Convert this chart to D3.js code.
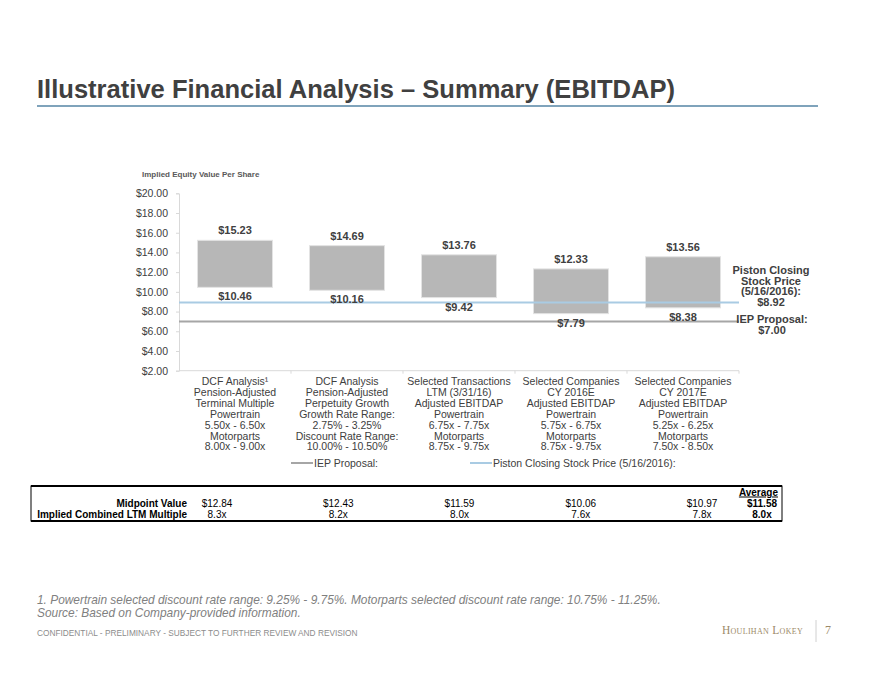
<!DOCTYPE html>
<html>
<head>
<meta charset="utf-8">
<script src="https://cdn.jsdelivr.net/npm/d3@7"></script>
<style>
  body { margin: 0; background: #fff; }
  svg { font-family: "Liberation Sans", Arial, sans-serif; }
</style>
</head>
<body>
<div id="chart"></div>
<script>
// chart values
var categories = [
  ["DCF Analysis\u00b9", "Pension-Adjusted", "Terminal Multiple", "Powertrain", "5.50x - 6.50x", "Motorparts", "8.00x - 9.00x"],
  ["DCF Analysis", "Pension-Adjusted", "Perpetuity Growth", "Growth Rate Range:", "2.75% - 3.25%", "Discount Rate Range:", "10.00% - 10.50%"],
  ["Selected Transactions", "LTM (3/31/16)", "Adjusted EBITDAP", "Powertrain", "6.75x - 7.75x", "Motorparts", "8.75x - 9.75x"],
  ["Selected Companies", "CY 2016E", "Adjusted EBITDAP", "Powertrain", "5.75x - 6.75x", "Motorparts", "8.75x - 9.75x"],
  ["Selected Companies", "CY 2017E", "Adjusted EBITDAP", "Powertrain", "5.25x - 6.25x", "Motorparts", "7.50x - 8.50x"]
];
var lowValues = [10.46, 10.16, 9.42, 7.79, 8.38];
var highValues = [15.23, 14.69, 13.76, 12.33, 13.56];
var iepProposal = 7.00;
var pistonPrice = 8.92;
var yTicks = [2, 4, 6, 8, 10, 12, 14, 16, 18, 20];

// table under the chart
var midpointValues = ["$12.84", "$12.43", "$11.59", "$10.06", "$10.97"];
var ltmMultiples = ["8.3x", "8.2x", "8.0x", "7.6x", "7.8x"];
var averageMidpoint = "$11.58";
var averageMultiple = "8.0x";

var width = 880, height = 680;
var textColor = "#404040";

var svg = d3.select("#chart").append("svg")
    .attr("width", width)
    .attr("height", height);

// title
svg.append("text")
    .attr("x", 37)
    .attr("y", 98)
    .attr("font-size", 26)
    .attr("font-weight", "bold")
    .attr("fill", textColor)
    .attr("textLength", 638)
    .attr("lengthAdjust", "spacingAndGlyphs")
    .text("Illustrative Financial Analysis \u2013 Summary (EBITDAP)");

svg.append("line")
    .attr("x1", 37).attr("x2", 818)
    .attr("y1", 106).attr("y2", 106)
    .attr("stroke", "#7fa3bb")
    .attr("stroke-width", 2);

// chart area
var plot = { left: 179, right: 739, top: 193.3, bottom: 370.7 };

var x = d3.scaleBand()
    .domain(d3.range(categories.length))
    .range([plot.left, plot.right])
    .paddingInner(0.33)
    .paddingOuter(0.165);

var xTicks = d3.scaleBand()
    .domain(d3.range(categories.length))
    .range([plot.left, plot.right]);

var y = d3.scaleLinear()
    .domain([2, 20])
    .range([plot.bottom, plot.top]);

svg.append("text")
    .attr("x", 142)
    .attr("y", 177)
    .attr("font-size", 8)
    .attr("font-weight", "bold")
    .attr("fill", "#595959")
    .text("Implied Equity Value Per Share");

var yAxis = svg.append("g")
    .attr("transform", `translate(${plot.left},0)`)
    .call(d3.axisLeft(y).tickValues(yTicks).tickSize(3).tickPadding(8)
      .tickFormat(d => "$" + d.toFixed(2)));
yAxis.select(".domain").attr("stroke", "#d9d9d9");
yAxis.selectAll(".tick line").attr("stroke", "#d9d9d9");
yAxis.selectAll(".tick text")
    .attr("font-size", 10.5)
    .attr("fill", textColor)
    .attr("font-family", "Liberation Sans, Arial, sans-serif");

// x axis line with small ticks between categories
svg.append("line")
    .attr("x1", plot.left).attr("x2", plot.right)
    .attr("y1", plot.bottom).attr("y2", plot.bottom)
    .attr("stroke", "#d9d9d9");
svg.selectAll(".xtick")
    .data(d3.range(1, categories.length + 1))
    .enter().append("line")
    .attr("x1", d => d < categories.length ? xTicks(d) : plot.right)
    .attr("x2", d => d < categories.length ? xTicks(d) : plot.right)
    .attr("y1", plot.bottom).attr("y2", plot.bottom + 3)
    .attr("stroke", "#d9d9d9");

// floating bars
svg.selectAll(".bar")
    .data(lowValues)
    .enter().append("rect")
    .attr("x", (d, i) => x(i))
    .attr("width", x.bandwidth())
    .attr("y", (d, i) => y(highValues[i]))
    .attr("height", (d, i) => y(d) - y(highValues[i]))
    .attr("fill", "#b7b7b7")
    .attr("stroke", "#e3e3e3")
    .attr("stroke-width", 1);

// reference lines
svg.append("line")
    .attr("x1", plot.left).attr("x2", plot.right)
    .attr("y1", y(pistonPrice)).attr("y2", y(pistonPrice))
    .attr("stroke", "#a9cbe3")
    .attr("stroke-width", 2);
svg.append("line")
    .attr("x1", plot.left).attr("x2", plot.right)
    .attr("y1", y(iepProposal)).attr("y2", y(iepProposal))
    .attr("stroke", "#a6a6a6")
    .attr("stroke-width", 2);

// value labels
svg.selectAll(".hiLabel")
    .data(highValues)
    .enter().append("text")
    .attr("x", (d, i) => x(i) + x.bandwidth() / 2)
    .attr("y", d => y(d) - 6)
    .attr("text-anchor", "middle")
    .attr("font-size", 11)
    .attr("font-weight", "bold")
    .attr("fill", textColor)
    .text(d => "$" + d.toFixed(2));

svg.selectAll(".loLabel")
    .data(lowValues)
    .enter().append("text")
    .attr("x", (d, i) => x(i) + x.bandwidth() / 2)
    .attr("y", d => y(d) + 13)
    .attr("text-anchor", "middle")
    .attr("font-size", 11)
    .attr("font-weight", "bold")
    .attr("fill", textColor)
    .text(d => "$" + d.toFixed(2));

// right side notes
var pistonNote = ["Piston Closing", "Stock Price", "(5/16/2016):", "$" + pistonPrice.toFixed(2)];
var iepNote = ["IEP Proposal:", "$" + iepProposal.toFixed(2)];

svg.append("text")
    .attr("text-anchor", "middle")
    .attr("font-size", 11)
    .attr("font-weight", "bold")
    .attr("fill", textColor)
    .selectAll("tspan")
    .data(pistonNote)
    .enter().append("tspan")
    .attr("x", 771)
    .attr("y", (d, i) => 274 + i * 10.7)
    .text(d => d);

svg.append("text")
    .attr("text-anchor", "middle")
    .attr("font-size", 11)
    .attr("font-weight", "bold")
    .attr("fill", textColor)
    .selectAll("tspan")
    .data(iepNote)
    .enter().append("tspan")
    .attr("x", 772)
    .attr("y", (d, i) => 323 + i * 10.7)
    .text(d => d);

// category labels
var catGroups = svg.selectAll(".cat")
    .data(categories)
    .enter().append("text")
    .attr("text-anchor", "middle")
    .attr("font-size", 10.5)
    .attr("fill", textColor);

catGroups.selectAll("tspan")
    .data((d, i) => d.map(t => ({ t: t, i: i })))
    .enter().append("tspan")
    .attr("x", d => x(d.i) + x.bandwidth() / 2)
    .attr("y", (d, j) => 385 + j * 10.9)
    .text(d => d.t);

// legend
var legend = [
  { label: "IEP Proposal:", color: "#a6a6a6", x: 291 },
  { label: "Piston Closing Stock Price (5/16/2016):", color: "#a9cbe3", x: 470 }
];
var lg = svg.selectAll(".legend")
    .data(legend)
    .enter().append("g")
    .attr("transform", d => `translate(${d.x},463)`);
lg.append("line")
    .attr("x1", 0).attr("x2", 22)
    .attr("stroke", d => d.color)
    .attr("stroke-width", 2);
lg.append("text")
    .attr("x", 23)
    .attr("y", 3.8)
    .attr("font-size", 10.5)
    .attr("fill", textColor)
    .text(d => d.label);

// summary table
var tLeft = 31, tRight = 782, tTop = 486, tBottom = 521;
svg.append("rect")
    .attr("x", tLeft).attr("y", tTop)
    .attr("width", tRight - tLeft).attr("height", tBottom - tTop)
    .attr("fill", "none")
    .attr("stroke", "#000")
    .attr("stroke-width", 1);
svg.append("line").attr("x1", tLeft).attr("x2", tRight)
    .attr("y1", tTop).attr("y2", tTop).attr("stroke", "#000").attr("stroke-width", 2);
svg.append("line").attr("x1", tLeft).attr("x2", tRight)
    .attr("y1", tBottom).attr("y2", tBottom).attr("stroke", "#000").attr("stroke-width", 2);

var col = d3.scalePoint()
    .domain(d3.range(midpointValues.length))
    .range([217, 702]);

var rows = [
  { label: "Midpoint Value", values: midpointValues, avg: averageMidpoint, y: 506.5 },
  { label: "Implied Combined LTM Multiple", values: ltmMultiples, avg: averageMultiple, y: 517.5 }
];

rows.forEach(function(r) {
  svg.append("text")
      .attr("x", 187).attr("y", r.y)
      .attr("text-anchor", "end")
      .attr("font-size", 10)
      .attr("font-weight", "bold")
      .attr("fill", "#000")
      .text(r.label);
  svg.selectAll(null)
      .data(r.values)
      .enter().append("text")
      .attr("x", (d, i) => col(i))
      .attr("y", r.y)
      .attr("text-anchor", "middle")
      .attr("font-size", 10)
      .attr("fill", "#000")
      .text(d => d);
  svg.append("text")
      .attr("x", 762).attr("y", r.y)
      .attr("text-anchor", "middle")
      .attr("font-size", 10)
      .attr("font-weight", "bold")
      .attr("fill", "#000")
      .text(r.avg);
});

svg.append("text")
    .attr("x", 778).attr("y", 495.5)
    .attr("text-anchor", "end")
    .attr("font-size", 10)
    .attr("font-weight", "bold")
    .attr("text-decoration", "underline")
    .attr("fill", "#000")
    .text("Average");

// footnotes
var notes = [
  "1. Powertrain selected discount rate range: 9.25% - 9.75%. Motorparts selected discount rate range: 10.75% - 11.25%.",
  "Source: Based on Company-provided information."
];
svg.selectAll(".note")
    .data(notes)
    .enter().append("text")
    .attr("x", 37)
    .attr("y", (d, i) => 604 + i * 12.5)
    .attr("font-size", 11.9)
    .attr("font-style", "italic")
    .attr("fill", "#808080")
    .text(d => d);

// footer
svg.append("text")
    .attr("x", 37).attr("y", 636)
    .attr("font-size", 8.3)
    .attr("fill", "#8c8c8c")
    .text("CONFIDENTIAL - PRELIMINARY - SUBJECT TO FURTHER REVIEW AND REVISION");

svg.append("text")
    .attr("x", 803).attr("y", 634)
    .attr("text-anchor", "end")
    .attr("font-family", "'Liberation Serif', 'DejaVu Serif', serif")
    .attr("font-size", 11.5)
    .attr("font-variant", "small-caps")
    .attr("letter-spacing", 0.3)
    .attr("fill", "#9c8a68")
    .text("Houlihan Lokey");

svg.append("line")
    .attr("x1", 816).attr("x2", 816)
    .attr("y1", 620).attr("y2", 642)
    .attr("stroke", "#d0d0d0");

svg.append("text")
    .attr("x", 825).attr("y", 634)
    .attr("font-family", "'Liberation Serif', 'DejaVu Serif', serif")
    .attr("font-size", 12)
    .attr("fill", "#9c8a68")
    .text("7");
</script>
</body>
</html>
